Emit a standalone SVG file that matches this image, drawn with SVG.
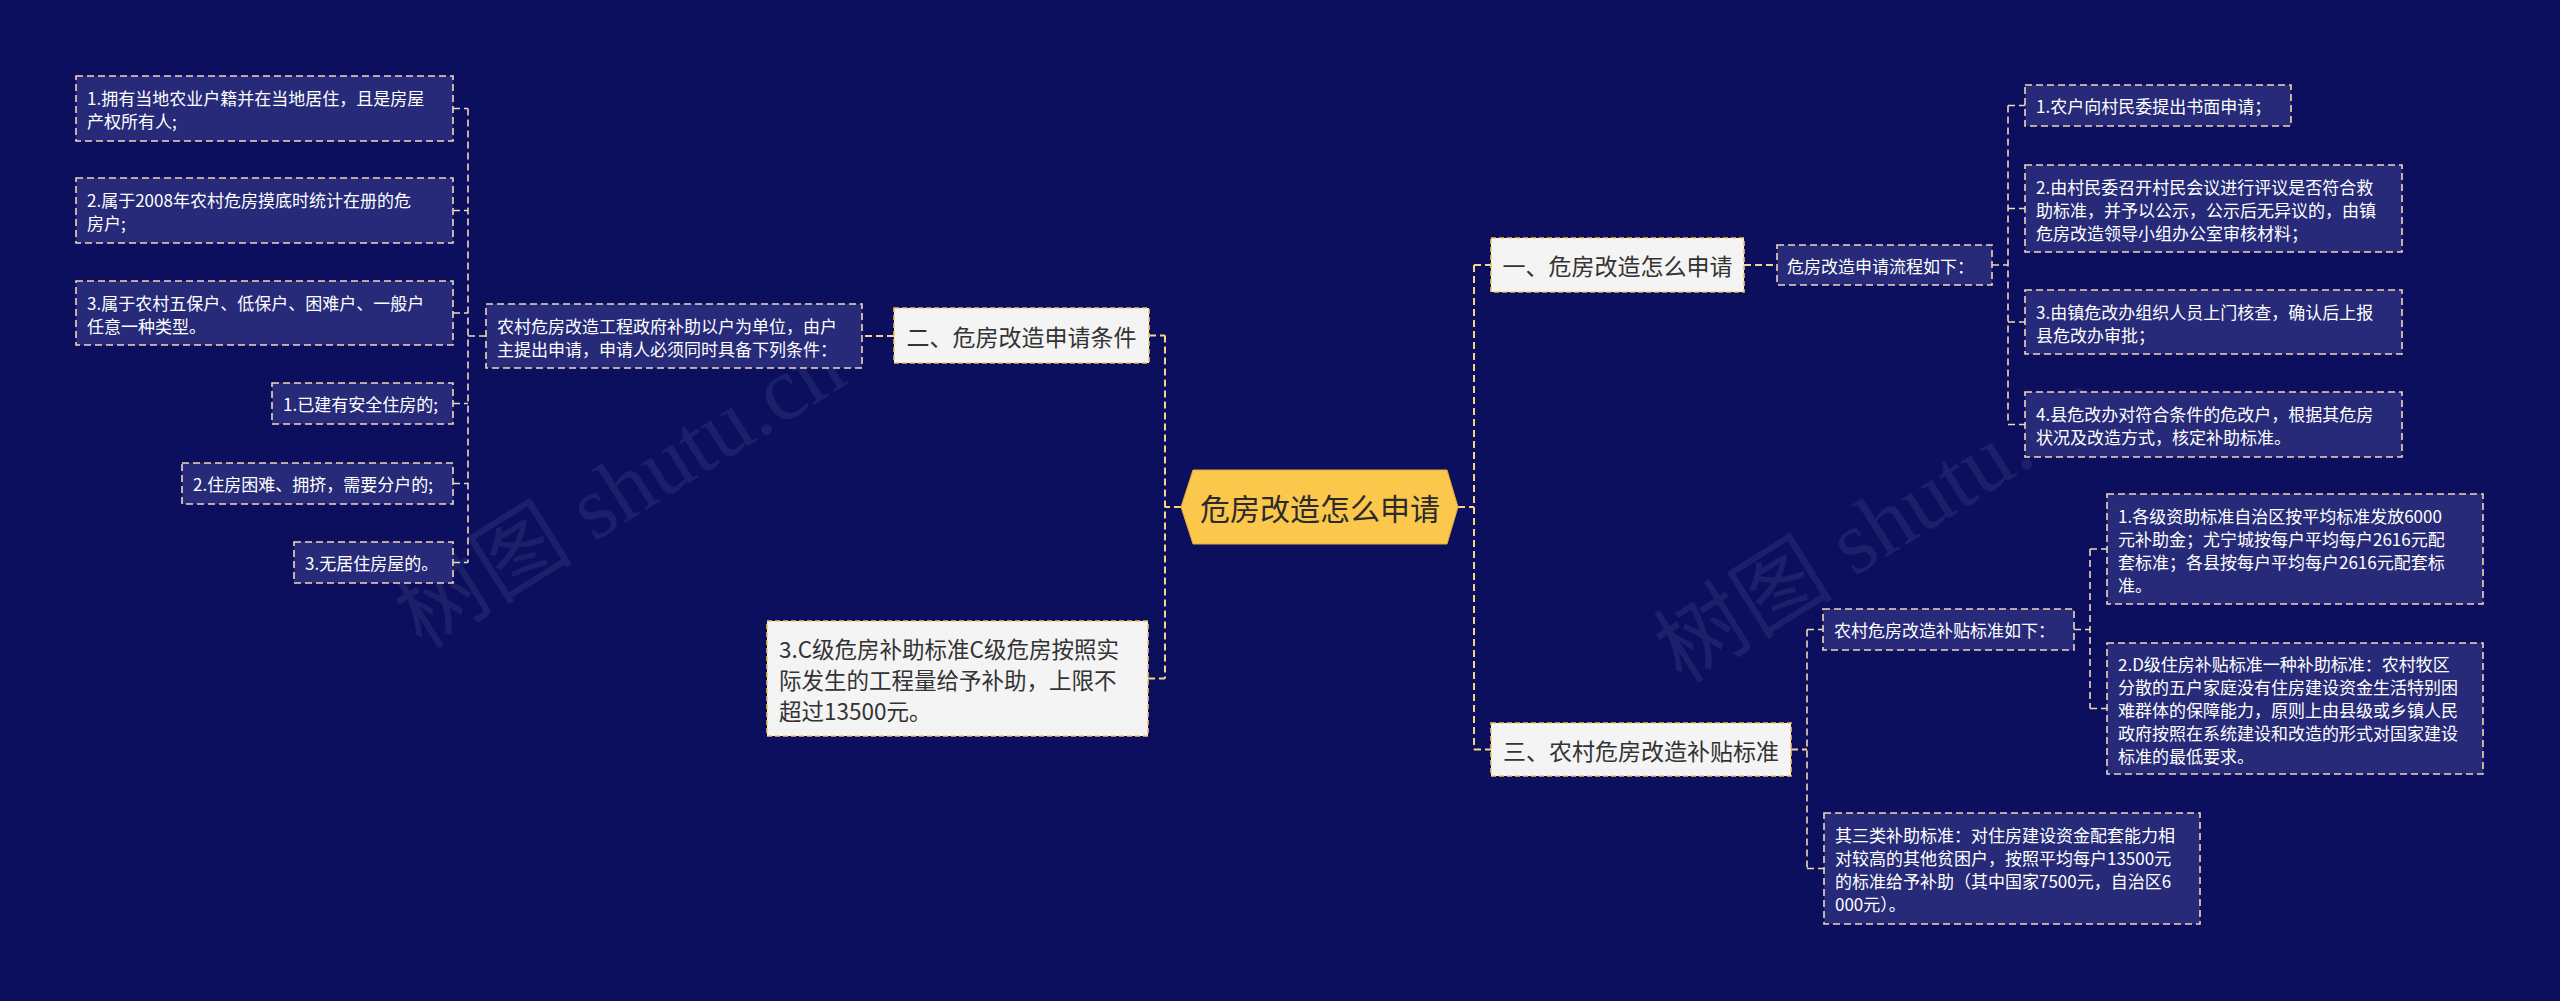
<svg xmlns="http://www.w3.org/2000/svg" width="2560" height="1001" viewBox="0 0 2560 1001">
<style>
.bg{fill:#0b0f5e}
.leaf{fill:#262a78;stroke:#efd8b6;stroke-width:1.6;stroke-dasharray:7 4}
.l1{fill:#f4f4f4;stroke:#f3c65e;stroke-width:1.6;stroke-dasharray:5 3}
.lt{font-family:"Noto Sans CJK SC","Noto Sans",sans-serif;font-size:17px;fill:#ffffff;dominant-baseline:central}
.ht{font-family:"Noto Sans CJK SC","Noto Sans",sans-serif;font-size:23px;fill:#333333;dominant-baseline:central}
.ct{font-family:"Noto Sans CJK SC","Noto Sans",sans-serif;font-size:30px;fill:#2b2b2b;dominant-baseline:central;text-anchor:middle}
.c1{fill:none;stroke:#f5d48a;stroke-width:2;stroke-dasharray:7 4}
.c2{fill:none;stroke:#efd8b6;stroke-width:1.6;stroke-dasharray:7 4}
.wm{font-family:"Liberation Serif","Noto Sans CJK SC",serif;font-size:90px;fill:#ffffff;fill-opacity:0.07}
</style>
<rect class="bg" x="0" y="0" width="2560" height="1001"/>
<text class="wm" transform="translate(620,490) rotate(-32)" text-anchor="middle" dominant-baseline="central">树图 shutu.cn</text>
<text class="wm" transform="translate(1880,525) rotate(-32)" text-anchor="middle" dominant-baseline="central">树图 shutu.cn</text>

<g id="connectors">
  <!-- center to left -->
  <path class="c1" d="M1181,507 H1165 M1165,335.5 V678.5 M1149,335.5 H1165 M1148,678.5 H1165"/>
  <!-- center to right -->
  <path class="c1" d="M1458,507 H1474 M1474,265 V749.5 M1474,265 H1491 M1474,749.5 H1491"/>
  <!-- 二 to parent -->
  <path class="c1" d="M894,336 H862"/>
  <!-- parent to left leaves -->
  <path class="c2" d="M486,336 H468 M468,108.5 V562.5 M453,108.5 H468 M453,210.5 H468 M453,313 H468 M453,403.5 H468 M453,483.5 H468 M453,562.5 H468"/>
  <!-- 一 to 流程 -->
  <path class="c1" d="M1744,265 H1777"/>
  <path class="c2" d="M1992,265 H2008 M2008,105.5 V424.5 M2008,105.5 H2025 M2008,208.5 H2025 M2008,322 H2025 M2008,424.5 H2025"/>
  <!-- 三 -->
  <path class="c1" d="M1791,749.5 H1807"/>
  <path class="c2" d="M1807,629.5 V868.5 M1807,629.5 H1823 M1807,868.5 H1824"/>
  <path class="c2" d="M2074,629.5 H2090 M2090,549 V708.5 M2090,549 H2107 M2090,708.5 H2107"/>
</g>

<g id="center">
  <polygon points="1181,507 1193,470 1447,470 1458,507 1447,544 1193,544" fill="#fbc84c" stroke="#e0a93a" stroke-width="1"/>
  <text class="ct" x="1320" y="507">危房改造怎么申请</text>
</g>

<g id="n-er">
  <rect class="l1" x="894" y="308" width="255" height="55"/>
  <text class="ht" x="1021.5" y="335.5" text-anchor="middle">二、危房改造申请条件</text>
</g>
<g id="n-3c">
  <rect class="l1" x="767" y="621" width="381" height="115"/>
  <text class="ht" x="779" y="647.5" style="font-size:22.5px"><tspan x="779" y="648">3.C级危房补助标准C级危房按照实</tspan><tspan x="779" y="679">际发生的工程量给予补助，上限不</tspan><tspan x="779" y="710">超过13500元。</tspan></text>
</g>
<g id="n-p">
  <rect class="leaf" x="486" y="304" width="376" height="64"/>
  <text class="lt"><tspan x="497" y="324.5">农村危房改造工程政府补助以户为单位，由户</tspan><tspan x="497" y="347.5">主提出申请，申请人必须同时具备下列条件：</tspan></text>
</g>
<g id="n-l1">
  <rect class="leaf" x="76" y="76" width="377" height="65"/>
  <text class="lt"><tspan x="87" y="97">1.拥有当地农业户籍并在当地居住，且是房屋</tspan><tspan x="87" y="120">产权所有人;</tspan></text>
</g>
<g id="n-l2">
  <rect class="leaf" x="76" y="178" width="377" height="65"/>
  <text class="lt"><tspan x="87" y="199">2.属于2008年农村危房摸底时统计在册的危</tspan><tspan x="87" y="222">房户;</tspan></text>
</g>
<g id="n-l3">
  <rect class="leaf" x="76" y="281" width="377" height="64"/>
  <text class="lt"><tspan x="87" y="301.5">3.属于农村五保户、低保户、困难户、一般户</tspan><tspan x="87" y="324.5">任意一种类型。</tspan></text>
</g>
<g id="n-l4">
  <rect class="leaf" x="272" y="383" width="181" height="41"/>
  <text class="lt" x="283" y="403.5">1.已建有安全住房的;</text>
</g>
<g id="n-l5">
  <rect class="leaf" x="182" y="463" width="271" height="41"/>
  <text class="lt" x="193" y="483.5">2.住房困难、拥挤，需要分户的;</text>
</g>
<g id="n-l6">
  <rect class="leaf" x="294" y="542" width="159" height="41"/>
  <text class="lt" x="305" y="562.5">3.无居住房屋的。</text>
</g>

<g id="n-yi">
  <rect class="l1" x="1491" y="238" width="253" height="54"/>
  <text class="ht" x="1617.5" y="265" text-anchor="middle">一、危房改造怎么申请</text>
</g>
<g id="n-lc">
  <rect class="leaf" x="1777" y="245" width="215" height="40"/>
  <text class="lt" x="1787" y="265">危房改造申请流程如下：</text>
</g>
<g id="n-r1">
  <rect class="leaf" x="2025" y="85" width="266" height="41"/>
  <text class="lt" x="2036" y="105.5">1.农户向村民委提出书面申请；</text>
</g>
<g id="n-r2">
  <rect class="leaf" x="2025" y="165" width="377" height="87"/>
  <text class="lt"><tspan x="2036" y="185.5">2.由村民委召开村民会议进行评议是否符合救</tspan><tspan x="2036" y="208.5">助标准，并予以公示，公示后无异议的，由镇</tspan><tspan x="2036" y="231.5">危房改造领导小组办公室审核材料；</tspan></text>
</g>
<g id="n-r3">
  <rect class="leaf" x="2025" y="290" width="377" height="64"/>
  <text class="lt"><tspan x="2036" y="310.5">3.由镇危改办组织人员上门核查，确认后上报</tspan><tspan x="2036" y="333.5">县危改办审批；</tspan></text>
</g>
<g id="n-r4">
  <rect class="leaf" x="2025" y="392" width="377" height="65"/>
  <text class="lt"><tspan x="2036" y="413">4.县危改办对符合条件的危改户，根据其危房</tspan><tspan x="2036" y="436">状况及改造方式，核定补助标准。</tspan></text>
</g>

<g id="n-san">
  <rect class="l1" x="1491" y="723" width="300" height="53"/>
  <text class="ht" x="1641" y="749.5" text-anchor="middle">三、农村危房改造补贴标准</text>
</g>
<g id="n-bt">
  <rect class="leaf" x="1823" y="609" width="251" height="41"/>
  <text class="lt" x="1834" y="629.5">农村危房改造补贴标准如下：</text>
</g>
<g id="n-b1">
  <rect class="leaf" x="2107" y="494" width="376" height="110"/>
  <text class="lt"><tspan x="2118" y="514.5">1.各级资助标准自治区按平均标准发放6000</tspan><tspan x="2118" y="537.5">元补助金；尤宁城按每户平均每户2616元配</tspan><tspan x="2118" y="560.5">套标准；各县按每户平均每户2616元配套标</tspan><tspan x="2118" y="583.5">准。</tspan></text>
</g>
<g id="n-b2">
  <rect class="leaf" x="2107" y="643" width="376" height="131"/>
  <text class="lt"><tspan x="2118" y="662.5">2.D级住房补贴标准一种补助标准：农村牧区</tspan><tspan x="2118" y="685.5">分散的五户家庭没有住房建设资金生活特别困</tspan><tspan x="2118" y="708.5">难群体的保障能力，原则上由县级或乡镇人民</tspan><tspan x="2118" y="731.5">政府按照在系统建设和改造的形式对国家建设</tspan><tspan x="2118" y="754.5">标准的最低要求。</tspan></text>
</g>
<g id="n-b3">
  <rect class="leaf" x="1824" y="813" width="376" height="111"/>
  <text class="lt"><tspan x="1835" y="834">其三类补助标准：对住房建设资金配套能力相</tspan><tspan x="1835" y="857">对较高的其他贫困户，按照平均每户13500元</tspan><tspan x="1835" y="880">的标准给予补助（其中国家7500元，自治区6</tspan><tspan x="1835" y="903">000元）。</tspan></text>
</g>
</svg>
